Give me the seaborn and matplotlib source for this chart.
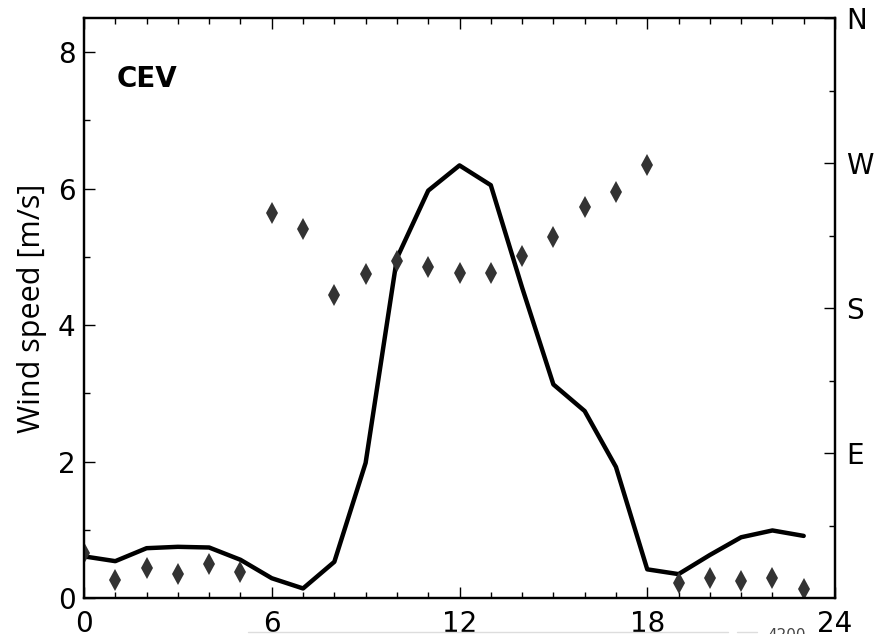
import numpy as np
import pandas as pd
import matplotlib
matplotlib.use("Agg")
import matplotlib.pyplot as plt
import seaborn as sns
from matplotlib.ticker import MultipleLocator, FixedLocator
from matplotlib.lines import Line2D

hours = list(range(24))
wind_speed = [0.61, 0.54, 0.73, 0.75, 0.74, 0.56, 0.29, 0.14, 0.53, 1.98,
              4.98, 5.97, 6.34, 6.05, 4.55, 3.13, 2.74, 1.92, 0.42, 0.35,
              0.63, 0.89, 0.99, 0.91]
wind_dir = [28.0, 11.2, 18.4, 14.9, 20.9, 16.0, 238.8, 229.0, 188.1, 200.9,
            209.4, 205.6, 201.9, 201.5, 212.3, 224.3, 242.9, 252.2, 268.8, 9.1,
            12.2, 10.5, 12.2, 5.4]
dir_ticks = [90, 180, 270, 360]
dir_labels = ["E", "S", "W", "N"]
station = "CEV"

df = pd.DataFrame({"hour": hours, "speed": wind_speed, "dir": wind_dir})

sns.set_theme(style="white")
plt.rcParams["font.family"] = ["DejaVu Sans"]

fig = plt.figure(figsize=(8.83, 6.34), dpi=100)
ax = fig.add_axes([84 / 883, 36 / 634, 751 / 883, 580 / 634])
ax2 = ax.twinx()

sns.lineplot(data=df, x="hour", y="speed", ax=ax, color="black", lw=3.2, zorder=3)
sns.lineplot(data=df, x="hour", y="dir", ax=ax2, marker="d", markersize=11,
             linestyle="", color="#333333", markeredgewidth=0, zorder=2)

ax.set_xlim(0, 24)
ax.set_ylim(0, 8.5)
ax2.set_ylim(0, 360)

ax.xaxis.set_major_locator(MultipleLocator(6))
ax.xaxis.set_minor_locator(MultipleLocator(1))
ax.yaxis.set_major_locator(MultipleLocator(2))
ax.yaxis.set_minor_locator(MultipleLocator(1))
ax2.yaxis.set_major_locator(FixedLocator(dir_ticks))
ax2.set_yticklabels(dir_labels)
ax2.yaxis.set_minor_locator(FixedLocator([45, 135, 225, 315]))

for a in (ax, ax2):
    a.tick_params(which="major", direction="in", length=8, width=1,
                  labelsize=20, color="black", labelcolor="black")
    a.tick_params(which="minor", direction="in", length=4, width=1, color="black")
    for s in a.spines.values():
        s.set_color("black")
        s.set_linewidth(1.6)
ax.tick_params(axis="x", which="both", top=True, bottom=True, pad=9)
ax.tick_params(axis="y", which="both", left=True, right=False, pad=6)
ax2.tick_params(axis="y", which="both", right=True, left=False, pad=8)

ax.set_xlabel("")
ax2.set_ylabel("")
ax.set_ylabel("Wind speed [m/s]", fontsize=22, family="Open Sans",
              color="black", labelpad=8)

ax.text(0.044, 0.881, station, transform=ax.transAxes, fontsize=20,
        fontweight="bold", ha="left", va="baseline", color="black")

# faint fragment at the bottom edge of the source image
fig.text(787 / 883, 6.5 / 634, "4200", fontsize=11, color="#444444",
         ha="center", va="top")
fig.add_artist(Line2D([248 / 883, 728 / 883], [2.5 / 634, 2.5 / 634],
                      color="#dddddd", lw=1))
fig.add_artist(Line2D([737 / 883, 757 / 883], [2.5 / 634, 2.5 / 634],
                      color="#dddddd", lw=1))

fig.savefig("out.png", dpi=100)
